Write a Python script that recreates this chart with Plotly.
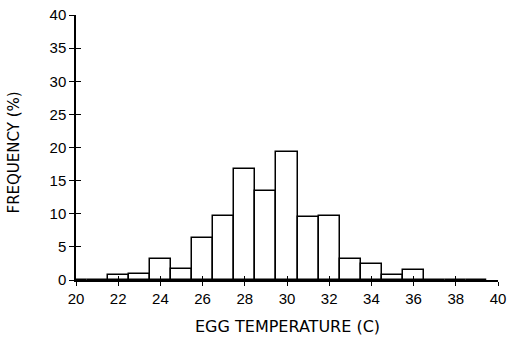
import plotly.graph_objects as go

temps = [20, 21, 22, 23, 24, 25, 26, 27, 28, 29, 30, 31, 32, 33, 34, 35, 36, 37, 38, 39]
freq = [0, 0, 0.8, 0.9, 3.2, 1.6, 6.4, 9.6, 16.8, 13.5, 19.3, 9.5, 9.6, 3.2, 2.4, 0.7, 1.5, 0, 0, 0]
x_ticks = [20, 22, 24, 26, 28, 30, 32, 34, 36, 38, 40]
y_ticks = [0, 5, 10, 15, 20, 25, 30, 35, 40]
x_title = "EGG TEMPERATURE (C)"
y_title = "FREQUENCY (%)"

TICK_FONT = "Liberation Sans"
TITLE_FONT = "DejaVu Sans"

fig = go.Figure()
fig.add_trace(go.Bar(
    x=temps, y=freq, width=1.0,
    marker=dict(color="white", line=dict(color="black", width=1.5)),
    showlegend=False,
))
fig.add_trace(go.Scatter(x=[20, 40], y=[0, 40], xaxis="x2", yaxis="y2",
                         mode="markers", marker=dict(opacity=0), showlegend=False,
                         hoverinfo="skip"))

fig.update_layout(
    width=509, height=338,
    margin=dict(l=76, r=11, t=15, b=58, autoexpand=False),
    paper_bgcolor="white", plot_bgcolor="white",
    font=dict(family=TICK_FONT, size=15, color="black"),
    bargap=0,
    xaxis=dict(
        range=[20, 40], tickvals=x_ticks, ticks="outside", ticklen=4, tickwidth=1.2,
        tickcolor="black", showline=True, linecolor="black", linewidth=1.5,
        showgrid=False, zeroline=False, tickfont=dict(size=15), automargin=False,
    ),
    yaxis=dict(
        range=[0, 40], tickvals=y_ticks, ticks="outside", ticklen=5, tickwidth=1.2,
        tickcolor="black", showline=True, linecolor="black", linewidth=1.5,
        showgrid=False, zeroline=False, tickfont=dict(size=15), automargin=False,
    ),
    xaxis2=dict(range=[20, 40], tickvals=x_ticks, ticks="inside", ticklen=4,
                tickwidth=1.2, tickcolor="black", showticklabels=False, automargin=False,
                showgrid=False, zeroline=False, overlaying="x", anchor="y"),
    yaxis2=dict(range=[0, 40], tickvals=y_ticks, ticks="inside", ticklen=5,
                tickwidth=1.2, tickcolor="black", showticklabels=False, automargin=False,
                showgrid=False, zeroline=False, overlaying="y", anchor="x"),
    annotations=[
        dict(text=x_title, xref="paper", yref="paper", x=0.5, y=-0.177,
             xanchor="center", yanchor="middle", showarrow=False,
             font=dict(family=TITLE_FONT, size=16, color="black")),
        dict(text=y_title, xref="paper", yref="paper", x=-0.147, y=0.481,
             xanchor="center", yanchor="middle", showarrow=False, textangle=-90,
             font=dict(family=TITLE_FONT, size=15, color="black")),
    ],
)

fig.write_html("out.html", config={"displayModeBar": False},
               post_script="document.body.style.margin='0';")
